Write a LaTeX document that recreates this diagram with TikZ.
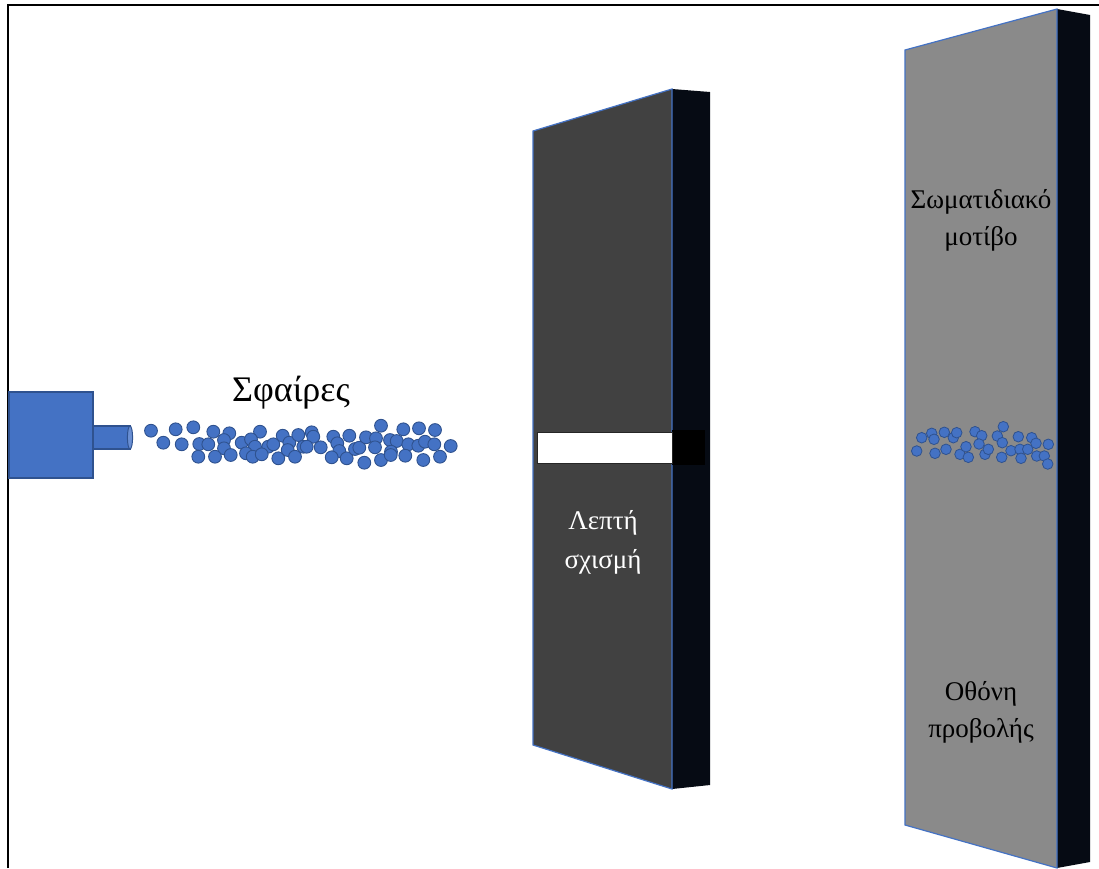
\documentclass[tikz,border=0pt]{standalone}
\usepackage{fontspec}
\setmainfont{Liberation Serif}
\definecolor{ballblue}{HTML}{4472C4}
\definecolor{balledge}{HTML}{2F528F}
\definecolor{nozzleend}{HTML}{6A8FD3}
\definecolor{slitfront}{HTML}{414141}
\definecolor{screenfront}{HTML}{8A8A8A}
\definecolor{panelside}{HTML}{060B14}
\begin{document}
\begin{tikzpicture}[x=1pt,y=-1pt,
  ball/.style={fill=ballblue, draw=balledge, line width=0.9pt},
  frontface/.style={draw=ballblue, line width=1.2pt, line join=miter},
  sideface/.style={fill=panelside},
  biglabel/.style={font=\fontsize{36}{40}\selectfont, anchor=base, inner sep=0pt},
  label/.style={font=\fontsize{27}{31}\selectfont, anchor=base, inner sep=0pt}]
\useasboundingbox (0,0) rectangle (1099,868);
\fill[white] (0,0) rectangle (1099,868);

% outer frame (left and top edges)
\draw[line width=2pt] (8,868) -- (8,5) -- (1099,5);

% particle source: body, nozzle and nozzle mouth
\draw[ball, line width=1.2pt] (9,392) rectangle (93,478);
\draw[ball, line width=1.2pt] (93,426) rectangle (130,449);
\draw[fill=nozzleend, draw=balledge, line width=1pt] (130,437.5) ellipse [x radius=2.6pt, y radius=11.5pt];

% stream of balls
\foreach \px/\py in {
  151/430.7, 175.7/429.3, 193.3/427.3, 213.3/431.7, 229.3/433.3, 260/431.7,
  163.3/442.7, 181.7/444.3, 199.3/444, 208.3/444.3, 224/440, 224/448.3,
  241.7/442.7, 251/439.3, 255/446.7, 268.3/446.7, 273.3/444.3, 282.7/435.7,
  289.3/442.7, 298.3/435, 303.3/446.7, 198.3/456.7, 215/456.7, 230.7/455,
  246/453.3, 252.7/456.7, 261.7/454.3, 278.3/458.3, 287.7/450, 295/456.7,
  311.7/432.3, 313.3/436.7, 306.7/446.7, 320.7/447.3, 333.3/436.7,
  349.3/435.7, 337.3/443.3, 339.3/451, 331.7/457.3, 346.7/458.3, 355/449,
  359.3/447.7, 364.3/462.7, 366/437.3, 376/438.3, 375/447.3, 381/425.7,
  381/460, 390/440, 396.7/441, 391/451.7, 390.7/455, 403.3/429.3,
  408.3/444.3, 405.3/455.7, 419/428.3, 418.3/445.7, 425/441.7, 423.3/460,
  435/430, 434.3/444.3, 440/456.7, 450.7/446}
  \draw[ball] (\px,\py) circle [radius=6.4pt];

\node[biglabel] (balls) at (291,401.5) {Σφαίρες};

% slit barrier
\fill[sideface] (672,89) -- (710,92) -- (710,785) -- (672,789) -- cycle;
\fill[slitfront] (533,131) -- (672,89) -- (672,789) -- (533,745) -- cycle;
\draw[frontface] (533,131) -- (672,89) -- (672,789) -- (533,745) -- cycle;
\fill[black] (672,430) rectangle (705,465);
\draw[fill=white, draw=black!85, line width=1pt] (537,432) rectangle (672,463);
\node[label, text=white] (slitA) at (603,529) {Λεπτή};
\node[label, text=white] (slitB) at (603,568) {σχισμή};

% detection screen
\fill[sideface] (1057,9) -- (1090,15) -- (1090,862) -- (1057,868) -- cycle;
\fill[screenfront] (905,50) -- (1057,9) -- (1057,868) -- (905,825) -- cycle;
\draw[frontface] (905,50) -- (1057,9) -- (1057,868) -- (905,825) -- cycle;

% hits on the screen
\foreach \px/\py in {
  921.7/437.7, 931.7/433.3, 934/439.3, 916.7/451, 935/453.3, 944.3/432.3,
  946/449.3, 953.3/437.7, 956.7/432.7, 960/454.3, 966/446.7, 968.3/457.3,
  975/431.7, 981.7/435.7, 979/444, 985/454.3, 988.3/449.3, 997.3/436,
  1003.3/426.7, 1002.3/442.7, 1001.7/457.3, 1011/450.7, 1018.3/436.7,
  1020/449.3, 1021/458.3, 1027.7/449.3, 1031.7/437.7, 1036/443.3,
  1036.7/456, 1044.3/456, 1048.3/444.3, 1047.7/464}
  \draw[ball, line width=0.8pt] (\px,\py) circle [radius=5.3pt];

\node[label] (patA) at (981,208) {Σωματιδιακό};
\node[label] (patB) at (981,245) {μοτίβο};
\node[label] (scrA) at (981,700) {Οθόνη};
\node[label] (scrB) at (981,737) {προβολής};
\end{tikzpicture}
\end{document}
